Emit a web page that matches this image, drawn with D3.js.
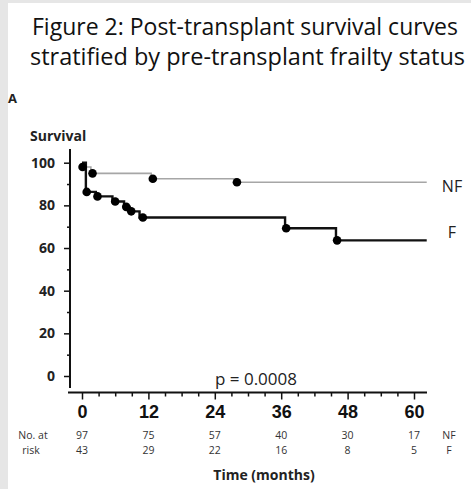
<!DOCTYPE html>
<html>
<head>
<meta charset="utf-8">
<script src="https://cdn.jsdelivr.net/npm/d3@7"></script>
<style>
  html, body { margin: 0; padding: 0; background: #e6e6e6; }
  svg { display: block; }
</style>
</head>
<body>
<svg id="vis" width="471" height="489"></svg>
<script>
// survival data (months, % surviving)
const nfTimes = [0, 0.4, 1.6, 12.5, 28, 62.3];
const nfSurv  = [100, 98, 95, 92.5, 90.8, 90.8];
const fTimes  = [0, 0.7, 2.5, 5.5, 7.6, 8.6, 10.4, 36.7, 45.9, 62.3];
const fSurv   = [100, 86.3, 84.2, 81.8, 79.3, 77.2, 74.3, 69.3, 63.6, 63.6];

// dot markers
const nfMarkT = [0.1, 1.9, 12.8, 28];
const nfMarkS = [98, 95, 92.5, 90.8];
const fMarkT  = [0.85, 2.8, 6, 8, 8.9, 11, 36.9, 46.1];
const fMarkS  = [86.3, 84.2, 81.8, 79.3, 77.2, 74.3, 69.3, 63.6];

const xTicks = [0, 12, 24, 36, 48, 60];
const yTicks = [0, 20, 40, 60, 80, 100];
const riskNF = [97, 75, 57, 40, 30, 17];
const riskF  = [43, 29, 22, 16, 8, 5];

const svg = d3.select("#vis");

// white panel
svg.append("rect")
  .attr("x", 8).attr("y", 3)
  .attr("width", 463).attr("height", 486)
  .attr("fill", "#fff");

// title
const titleLines = [
  { text: "Figure 2: Post-transplant survival curves", x: 32, y: 35, w: 426 },
  { text: "stratified by pre-transplant frailty status", x: 30, y: 65, w: 435 }
];
svg.selectAll(".title").data(titleLines).enter().append("text")
  .attr("class", "title")
  .attr("x", d => d.x).attr("y", d => d.y)
  .attr("textLength", d => d.w)
  .attr("lengthAdjust", "spacingAndGlyphs")
  .attr("font-family", "Open Sans, sans-serif")
  .attr("font-size", 23)
  .attr("fill", "#111")
  .text(d => d.text);

svg.append("text")
  .attr("x", 8).attr("y", 103)
  .attr("font-family", "Open Sans, sans-serif")
  .attr("font-weight", "bold").attr("font-size", 13)
  .attr("fill", "#222")
  .text("A");

svg.append("text")
  .attr("x", 30).attr("y", 141)
  .attr("font-family", "Open Sans, sans-serif")
  .attr("font-weight", "bold").attr("font-size", 14)
  .attr("fill", "#222")
  .text("Survival");

// scales
const x = d3.scaleLinear().domain([0, 60]).range([82, 414]);
const y = d3.scaleLinear().domain([0, 100]).range([376, 162.7]);

// axis lines
svg.append("line")
  .attr("x1", 70).attr("x2", 70).attr("y1", 149).attr("y2", 388)
  .attr("stroke", "#111").attr("stroke-width", 2);
svg.append("line")
  .attr("x1", 68).attr("x2", 427).attr("y1", 392.5).attr("y2", 392.5)
  .attr("stroke", "#111").attr("stroke-width", 2);

// y ticks
const yAxis = svg.append("g").attr("transform", "translate(70,0)");
yAxis.call(d3.axisLeft(y).tickValues(yTicks).tickSize(6).tickPadding(9))
  .call(g => g.select(".domain").remove());
yAxis.append("g")
  .call(d3.axisLeft(y).tickValues(d3.range(10, 100, 20)).tickSize(3).tickFormat(""))
  .call(g => g.select(".domain").remove());
yAxis.selectAll("line").attr("stroke", "#111").attr("stroke-width", 1.5);
yAxis.selectAll("text")
  .attr("font-family", "Open Sans, sans-serif")
  .attr("font-weight", "bold").attr("font-size", 14)
  .attr("fill", "#222");

// x ticks
const xAxis = svg.append("g").attr("transform", "translate(0,392.5)");
xAxis.call(d3.axisBottom(x).tickValues(xTicks).tickSize(7).tickPadding(6))
  .call(g => g.select(".domain").remove());
xAxis.append("g")
  .call(d3.axisBottom(x).tickValues(d3.range(3, 60, 3).filter(v => v % 12)).tickSize(4).tickFormat(""))
  .call(g => g.select(".domain").remove());
xAxis.selectAll("line").attr("stroke", "#111").attr("stroke-width", 1.5);
xAxis.selectAll("text")
  .attr("font-family", "Liberation Sans Narrow, Arial Narrow, Liberation Sans, sans-serif")
  .attr("font-weight", "bold").attr("font-size", 18)
  .attr("fill", "#111");

// curves
const line = d3.line()
  .x(d => x(d[0])).y(d => y(d[1]))
  .curve(d3.curveStepAfter);

svg.append("path")
  .datum(d3.zip(nfTimes, nfSurv))
  .attr("d", line)
  .attr("fill", "none").attr("stroke", "#a6a6a6").attr("stroke-width", 1.6);

svg.append("path")
  .datum(d3.zip(fTimes, fSurv))
  .attr("d", line)
  .attr("fill", "none").attr("stroke", "#111").attr("stroke-width", 2.4);

svg.selectAll(".mark")
  .data(d3.zip(nfMarkT, nfMarkS).concat(d3.zip(fMarkT, fMarkS)))
  .enter().append("circle")
  .attr("cx", d => x(d[0])).attr("cy", d => y(d[1]))
  .attr("r", 4.3).attr("fill", "#000");

// curve labels
svg.append("text")
  .attr("x", 452).attr("y", 192).attr("text-anchor", "middle")
  .attr("font-family", "Open Sans, sans-serif").attr("font-size", 16)
  .attr("fill", "#222").text("NF");
svg.append("text")
  .attr("x", 452).attr("y", 238).attr("text-anchor", "middle")
  .attr("font-family", "Open Sans, sans-serif").attr("font-size", 16)
  .attr("fill", "#222").text("F");

svg.append("text")
  .attr("x", 256).attr("y", 385).attr("text-anchor", "middle")
  .attr("font-family", "Open Sans, sans-serif").attr("font-size", 17)
  .attr("fill", "#222").text("p = 0.0008");

// numbers at risk
const riskFont = "Open Sans, sans-serif";
svg.append("text").attr("x", 33).attr("y", 439).attr("text-anchor", "middle")
  .attr("font-family", riskFont).attr("font-size", 10.5).attr("fill", "#333")
  .text("No. at");
svg.append("text").attr("x", 31).attr("y", 454).attr("text-anchor", "middle")
  .attr("font-family", riskFont).attr("font-size", 10.5).attr("fill", "#333")
  .text("risk");

svg.selectAll(".rnf").data(riskNF).enter().append("text")
  .attr("x", (d, i) => x(xTicks[i])).attr("y", 439)
  .attr("text-anchor", "middle")
  .attr("font-family", riskFont).attr("font-size", 10.5).attr("fill", "#333")
  .text(d => d);
svg.selectAll(".rf").data(riskF).enter().append("text")
  .attr("x", (d, i) => x(xTicks[i])).attr("y", 454)
  .attr("text-anchor", "middle")
  .attr("font-family", riskFont).attr("font-size", 10.5).attr("fill", "#333")
  .text(d => d);
svg.append("text").attr("x", 449).attr("y", 439).attr("text-anchor", "middle")
  .attr("font-family", riskFont).attr("font-size", 10.5).attr("fill", "#333")
  .text("NF");
svg.append("text").attr("x", 449).attr("y", 454).attr("text-anchor", "middle")
  .attr("font-family", riskFont).attr("font-size", 10.5).attr("fill", "#333")
  .text("F");

svg.append("text")
  .attr("x", 264).attr("y", 480).attr("text-anchor", "middle")
  .attr("font-family", "Open Sans, sans-serif")
  .attr("font-weight", "bold").attr("font-size", 14)
  .attr("fill", "#222")
  .text("Time (months)");
</script>
</body>
</html>
